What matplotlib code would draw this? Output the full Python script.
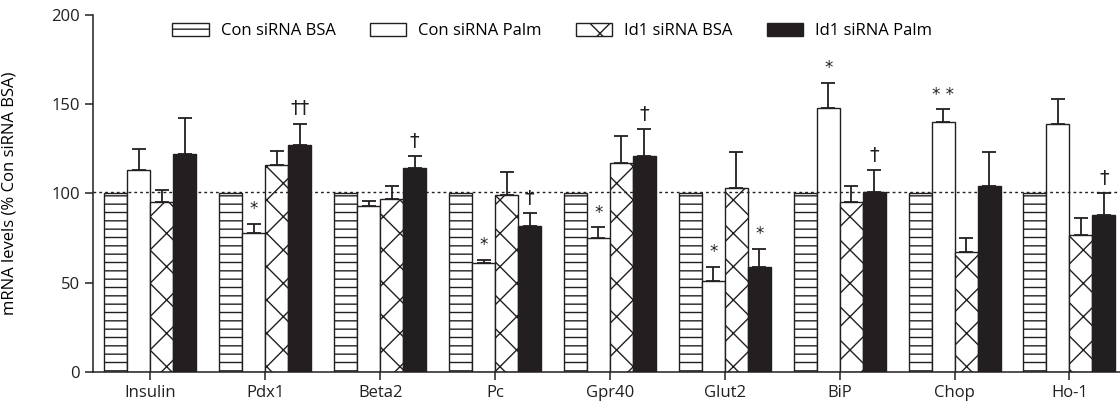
import numpy as np
import matplotlib.pyplot as plt
from matplotlib.patches import Patch

plt.rcParams['font.family'] = ['Open Sans', 'DejaVu Sans']
plt.rcParams['hatch.linewidth'] = 1.0

genes = ["Insulin", "Pdx1", "Beta2", "Pc", "Gpr40", "Glut2", "BiP", "Chop", "Ho-1"]
series = ["Con siRNA BSA", "Con siRNA Palm", "Id1 siRNA BSA", "Id1 siRNA Palm"]

con_bsa = [100, 100, 100, 100, 100, 100, 100, 100, 100]
con_palm = [113, 78, 93, 61, 75, 51, 148, 140, 139]
id1_bsa = [95, 116, 97, 99, 117, 103, 95, 67, 77]
id1_palm = [122, 127, 114, 82, 121, 59, 101, 104, 88]

con_bsa_err = [0, 0, 0, 0, 0, 0, 0, 0, 0]
con_palm_err = [12, 5, 3, 2, 6, 8, 14, 7, 14]
id1_bsa_err = [7, 8, 7, 13, 15, 20, 9, 8, 9]
id1_palm_err = [20, 12, 7, 7, 15, 10, 12, 19, 12]

# (gene index, series index, mark)
marks = [(1, 1, "*"), (3, 1, "*"), (4, 1, "*"), (5, 1, "*"), (6, 1, "*"),
         (7, 1, "* *"), (5, 3, "*"),
         (1, 3, "††"), (2, 3, "†"), (3, 3, "†"), (4, 3, "†"), (6, 3, "†"), (8, 3, "†")]

reference_level = 101

values = [con_bsa, con_palm, id1_bsa, id1_palm]
errors = [con_bsa_err, con_palm_err, id1_bsa_err, id1_palm_err]
styles = [dict(facecolor="white", hatch="--"),
          dict(facecolor="white", hatch=None),
          dict(facecolor="white", hatch="x"),
          dict(facecolor="#231f20", hatch=None)]

fig = plt.figure(figsize=(11.2, 4.12), dpi=100)
ax = fig.add_axes([0.083, 0.097, 0.917, 0.867])

x = np.arange(len(genes))
width = 0.2
offsets = [-0.3, -0.1, 0.1, 0.3]

ax.axhline(reference_level, color="#231f20", linestyle=(0, (2, 2.2)), linewidth=1.0, zorder=4)

for vals, errs, st, off, name in zip(values, errors, styles, offsets, series):
    ax.bar(x + off, vals, width=width, edgecolor="#231f20", linewidth=1.0,
           label=name, zorder=2, **st)
    e = np.array(errs)
    show = e > 0
    ax.errorbar((x + off)[show], np.array(vals)[show],
                yerr=[np.zeros(show.sum()), e[show]], fmt="none",
                ecolor="#231f20", elinewidth=1.3, capsize=5, capthick=1.3, zorder=3)

for gi, si, txt in marks:
    top = values[si][gi] + errors[si][gi]
    fs = 12 if "*" in txt else 14
    ax.text(x[gi] + offsets[si], top + 3, txt, ha="center", va="bottom",
            fontsize=fs, color="#231f20", family=["DejaVu Sans"])

ax.set_xlim(-0.5, 8.44)
ax.set_ylim(0, 200)
ax.set_yticks([0, 50, 100, 150, 200])
ax.set_xticks(x)
ax.set_xticklabels(genes)
ax.set_ylabel("mRNA levels (% Con siRNA BSA)", fontsize=12)
ax.yaxis.set_label_coords(-0.073, 0.5)
ax.tick_params(axis="both", labelsize=12, direction="out", length=6, width=1.1,
               colors="#231f20")
for s in ["top", "right"]:
    ax.spines[s].set_visible(False)
for s in ["left", "bottom"]:
    ax.spines[s].set_linewidth(1.1)
    ax.spines[s].set_color("#231f20")

handles = [Patch(edgecolor="#231f20", linewidth=1.0, label=n, **st)
           for n, st in zip(series, styles)]
ax.legend(handles=handles, loc="center", bbox_to_anchor=(0.447, 0.955), ncol=4,
          frameon=False, fontsize=12, handlelength=2.2, handleheight=0.85,
          columnspacing=2.05, handletextpad=0.7)

fig.savefig("out.png", dpi=100)
